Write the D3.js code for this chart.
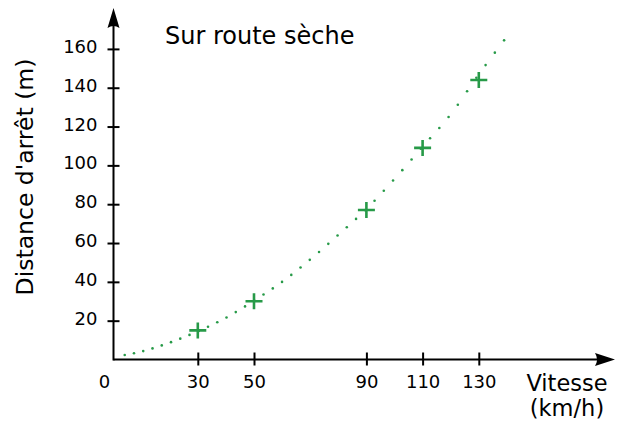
<!DOCTYPE html>
<html>
<head>
<meta charset="utf-8">
<script src="https://cdn.jsdelivr.net/npm/d3@7"></script>
<style>
  html, body { margin: 0; padding: 0; background: #fff; }
  svg { display: block; }
  text { font-family: "DejaVu Sans", sans-serif; fill: #000; }
</style>
</head>
<body>
<svg id="chart" width="624" height="422"></svg>
<script>
// ---- data ----
const title = "Sur route sèche";
const xLabelLines = ["Vitesse", "(km/h)"];
const yLabel = "Distance d'arrêt (m)";
const speeds = [30, 50, 90, 110, 130];             // km/h (measured points)
const distances = [15, 30, 77, 109, 144];          // m
const curveSpeeds = [4, 10, 20, 30, 40, 50, 60, 70, 80, 90, 100, 110, 120, 130, 139];
const curveDistances = [2.3, 4.1, 8.7, 14.5, 21.5, 30.3, 40, 51.5, 64.2, 77.5, 93, 109.6, 126.3, 146.9, 164.4];
const xTicks = [30, 50, 90, 110, 130];
const yTicks = [20, 40, 60, 80, 100, 120, 140, 160];
const originLabel = "0";

// ---- layout ----
const green = "#279a48";
const svg = d3.select("#chart");
const x = d3.scaleLinear().domain([0, 130]).range([113.5, 478.8]);
const y = d3.scaleLinear().domain([0, 160]).range([359.5, 48.9]);
const x0 = x(0), y0 = y(0);

// axes lines with arrowheads
svg.append("line").attr("x1", x0).attr("y1", y0).attr("x2", 600).attr("y2", y0)
  .attr("stroke", "#000").attr("stroke-width", 2);
svg.append("line").attr("x1", x0).attr("y1", y0 + 1).attr("x2", x0).attr("y2", 24)
  .attr("stroke", "#000").attr("stroke-width", 2);
svg.append("path")
  .attr("d", `M615,${y0} L595,${y0 - 6.5} Q599,${y0} 595,${y0 + 6.5} Z`)
  .attr("fill", "#000");
svg.append("path")
  .attr("d", `M${x0},8 L${x0 - 6},28 Q${x0},24 ${x0 + 6},28 Z`)
  .attr("fill", "#000");

// x axis ticks
const gx = svg.append("g").attr("transform", `translate(0,${y0})`)
  .call(d3.axisBottom(x).tickValues(xTicks).tickSize(6).tickPadding(0));
gx.select(".domain").remove();
gx.selectAll(".tick line").attr("y1", -7).attr("y2", 6).attr("stroke", "#000").attr("stroke-width", 2);
gx.selectAll(".tick text").attr("y", 16).attr("font-size", 18).attr("font-family", "DejaVu Sans").attr("fill", "#000");

// y axis ticks
const gy = svg.append("g").attr("transform", `translate(${x0},0)`)
  .call(d3.axisLeft(y).tickValues(yTicks).tickSize(6).tickPadding(0));
gy.select(".domain").remove();
gy.selectAll(".tick line").attr("x1", -6).attr("x2", 6).attr("stroke", "#000").attr("stroke-width", 2);
gy.selectAll(".tick text").attr("x", -16).attr("dy", "0.2em").attr("font-size", 18)
  .attr("font-family", "DejaVu Sans").attr("fill", "#000");

// origin label
svg.append("text").attr("x", x0 - 9).attr("y", y0 + 16).attr("dy", "0.71em")
  .attr("text-anchor", "middle").attr("font-size", 18).text(originLabel);

// dotted fitted curve: dots at equal horizontal spacing along the curve
const curveData = curveSpeeds.map((v, i) => [v, curveDistances[i]]);
const line = d3.line().x(d => x(d[0])).y(d => y(d[1])).curve(d3.curveCatmullRom.alpha(0.5));
const guide = svg.append("path").attr("d", line(curveData)).attr("fill", "none").attr("stroke", "none");
const node = guide.node();
const total = node.getTotalLength();
const xs = x(curveSpeeds[0]), xe = x(curveSpeeds[curveSpeeds.length - 1]);
const intervals = 41;
const dots = [];
for (let k = 0; k <= intervals; k++) {
  const tx = xs + (xe - xs) * k / intervals;
  let lo = 0, hi = total;
  for (let it = 0; it < 40; it++) {
    const mid = (lo + hi) / 2;
    if (node.getPointAtLength(mid).x < tx) lo = mid; else hi = mid;
  }
  const p = node.getPointAtLength((lo + hi) / 2);
  dots.push([p.x, p.y]);
}
svg.append("g").selectAll("circle").data(dots).join("circle")
  .attr("cx", d => d[0]).attr("cy", d => d[1]).attr("r", 1.3).attr("fill", green);

// plus markers
svg.append("g").selectAll("path.pt").data(speeds.map((v, i) => [v, distances[i]])).join("path")
  .attr("class", "pt")
  .attr("d", d => `M${x(d[0]) - 8.5},${y(d[1])}H${x(d[0]) + 8.5}M${x(d[0])},${y(d[1]) - 8}V${y(d[1]) + 8}`)
  .attr("stroke", green).attr("stroke-width", 2.6).attr("fill", "none");

// title
svg.append("text").attr("x", 165).attr("y", 43.5).attr("font-size", 24).text(title);

// x label
const xl = svg.append("text").attr("x", 567).attr("y", 391).attr("text-anchor", "middle").attr("font-size", 22.5);
xLabelLines.forEach((s, i) => xl.append("tspan").attr("x", 567).attr("dy", i === 0 ? 0 : 25).text(s));

// y label
svg.append("text").attr("transform", "translate(33,177) rotate(-90)")
  .attr("text-anchor", "middle").attr("font-size", 23.5).text(yLabel);
</script>
</body>
</html>
